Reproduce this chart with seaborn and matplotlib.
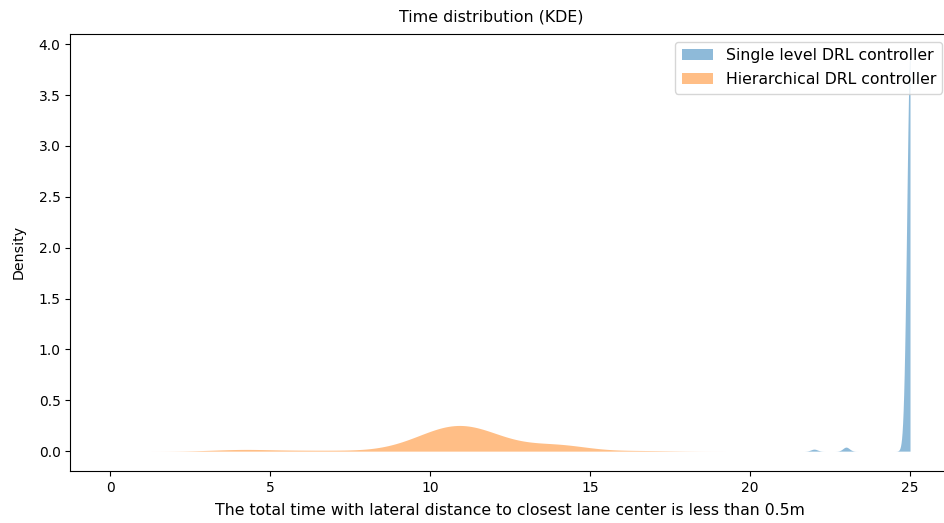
import numpy as np
import pandas as pd
import matplotlib
matplotlib.use("Agg")
import matplotlib.pyplot as plt
import seaborn as sns

# Episode times (s) during which the vehicle stayed within 0.5 m of the lane center
single_times = [22.0, 23.0, 25.0]
single_counts = [1, 2, 197]

hierarchical_times = [
    3.9, 4.1, 4.4, 5.8, 7.1,
    8.7, 9.1, 9.3, 9.4, 9.6, 9.7, 9.7, 9.8, 9.9, 10.0, 10.0, 10.1, 10.1,
    10.2, 10.2, 10.3, 10.3, 10.3, 10.4, 10.4, 10.5, 10.5, 10.5, 10.6, 10.6,
    10.6, 10.7, 10.7, 10.8, 10.8, 10.8, 10.9, 10.9,
    10.9, 11.0, 11.0, 11.0, 11.1, 11.1, 11.1, 11.2, 11.2, 11.2, 11.3, 11.3,
    11.3, 11.4, 11.4, 11.5, 11.5, 11.6, 11.6, 11.7, 11.7, 11.8, 11.8, 11.9,
    11.9, 12.0, 12.1, 12.1, 12.2, 12.4, 12.5, 12.7, 13.1,
    13.5, 13.7, 13.8, 13.9, 13.9, 14.0, 14.0, 14.1, 14.2, 14.4, 14.6,
    16.6,
]

series_labels = ["Single level DRL controller", "Hierarchical DRL controller"]

single = np.repeat(single_times, single_counts)
hierarchical = np.asarray(hierarchical_times)

fig = plt.figure(figsize=(9.45, 5.23), dpi=100)
ax = fig.add_axes([0.0744, 0.0994, 0.9309, 0.8361])

sns.kdeplot(x=single, ax=ax, fill=True, alpha=0.5, linewidth=0,
            clip=(0, 25), color="C0", label=series_labels[0])
sns.kdeplot(x=hierarchical, ax=ax, fill=True, alpha=0.5, linewidth=0,
            clip=(0, 25), color="C1", label=series_labels[1])

# keep the default 5% padding on the density axis, including below zero
ax.use_sticky_edges = False
ax.autoscale_view()
# time axis spans the full 0-25 s episode range
ax.set_xlim(-1.25, 26.25)

ax.set_title("Time distribution (KDE)", fontsize=11.4, x=0.478, pad=8.5)
ax.set_xlabel("The total time with lateral distance to closest lane center is less than 0.5m",
              fontsize=11.3, labelpad=6)
ax.set_ylabel("Density", fontsize=10.2, labelpad=9)
ax.tick_params(labelsize=10)
ax.legend(loc="upper right", fontsize=11.3, labelspacing=0.6)

fig.savefig("out.png", dpi=100)
